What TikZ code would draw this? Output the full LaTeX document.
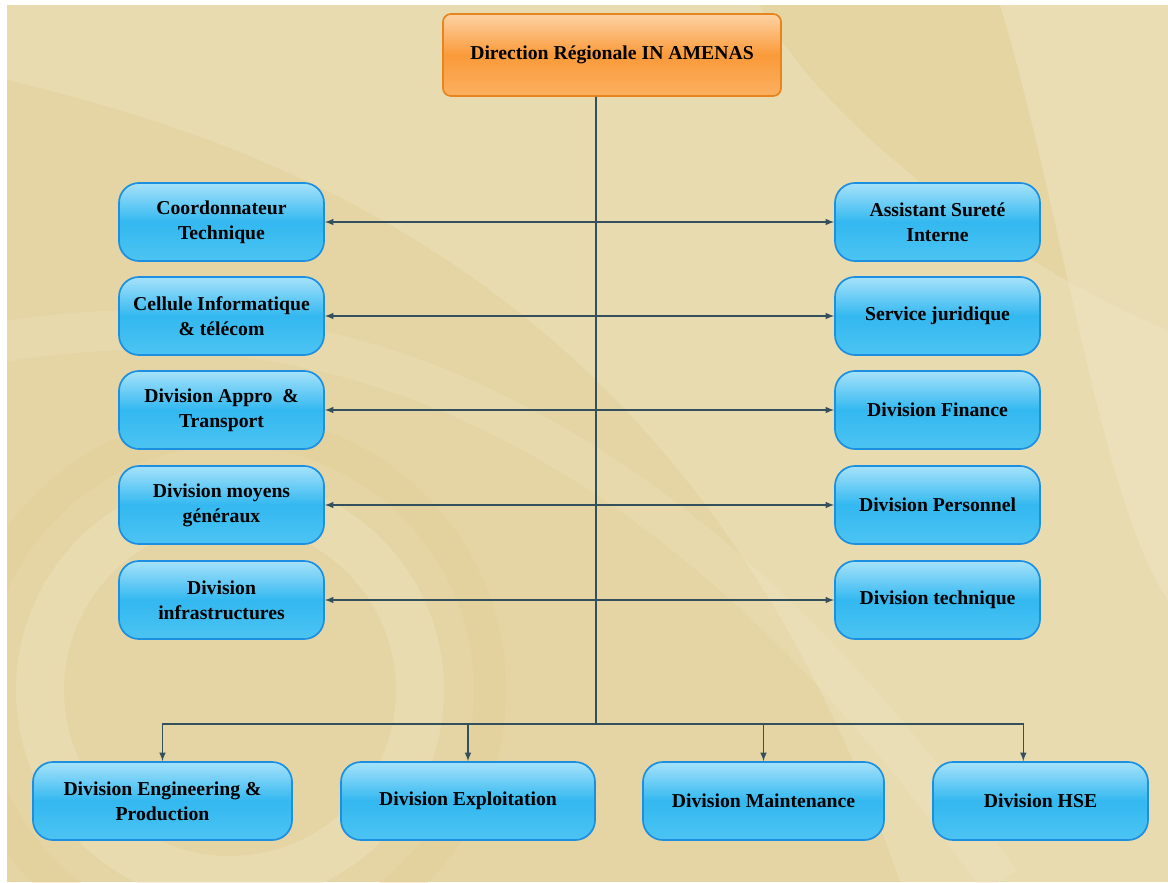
\documentclass[tikz,border=0pt]{standalone}
\usepackage{fontspec}
\setmainfont{Liberation Serif}
\definecolor{paper}{HTML}{E9DBB0}
\definecolor{paperdark}{HTML}{E0CC8E}
\definecolor{paperlight}{HTML}{EFE5C4}
\definecolor{boxtop}{HTML}{A6E2FA}
\definecolor{boxmid}{HTML}{33B8F0}
\definecolor{boxbot}{HTML}{4CC4F2}
\definecolor{boxedge}{HTML}{1C8FE0}
\definecolor{headtop}{HTML}{FDD3A4}
\definecolor{headmid}{HTML}{FA9A3A}
\definecolor{headbot}{HTML}{FBB060}
\definecolor{headedge}{HTML}{E8841E}
\definecolor{wire}{HTML}{34505C}
\begin{document}
\begin{tikzpicture}[x=0.025cm, y=-0.025cm,
    unitbox/.style={draw=boxedge, line width=1.2pt, rounded corners=0.5cm,
      top color=boxtop, bottom color=boxbot, middle color=boxmid,
      minimum width=5.125cm, minimum height=1.95cm, inner sep=2pt,
      align=center, font=\fontsize{14}{18}\selectfont\bfseries},
    headbox/.style={draw=headedge, line width=1.2pt, rounded corners=0.2cm,
      top color=headtop, bottom color=headbot, middle color=headmid,
      minimum width=8.45cm, minimum height=2.05cm,
      font=\fontsize{14}{18}\selectfont\bfseries},
    link/.style={wire, line width=1.1pt},
    >=latex]

  % page and background swirls
  \useasboundingbox (0,0) rectangle (1168,882);
  \fill[white] (0,0) rectangle (1168,882);
  \fill[paper] (7,5) rectangle (1168,882);
  \begin{scope}
    \clip (7,5) rectangle (1168,882);
    \fill[paperdark, opacity=0.35] (7,80) .. controls (300,150) and (700,300) .. (900,882)
      -- (7,882) -- cycle;
    \fill[paperdark, opacity=0.4] (760,5) .. controls (820,120) and (1000,260) .. (1168,330)
      -- (1168,5) -- cycle;
    \fill[paperlight, opacity=0.5] (1000,5) .. controls (1060,200) and (1100,500) .. (1168,600)
      -- (1168,5) -- cycle;
    \draw[paperlight, opacity=0.4, line width=1.2cm] (230,690) circle [radius=190];
    \draw[paperdark, opacity=0.3, line width=0.8cm] (230,690) circle [radius=260];
    \draw[paperlight, opacity=0.3, line width=1cm] (-200,400) .. controls (300,200) and (700,450) .. (1000,882);
  \end{scope}

  % head of the region
  \node[headbox] (dr) at (612,55) {Direction Régionale IN AMENAS};

  % staff units, left column
  \node[unitbox] (ct) at (221.5,222) {Coordonnateur\\Technique};
  \node[unitbox] (cit) at (221.5,316) {Cellule Informatique\\\& télécom};
  \node[unitbox] (dat) at (221.5,410) {Division Appro~~\&\\Transport};
  \node[unitbox] (dmg) at (221.5,505) {Division moyens\\généraux};
  \node[unitbox] (dinf) at (221.5,600) {Division\\infrastructures};

  % staff units, right column
  \node[unitbox] (asi) at (937.5,222) {Assistant Sureté\\Interne};
  \node[unitbox] (sj) at (937.5,316) {Service juridique};
  \node[unitbox] (dfin) at (937.5,410) {Division Finance};
  \node[unitbox] (dper) at (937.5,505) {Division Personnel};
  \node[unitbox] (dtech) at (937.5,600) {Division technique};

  % operational divisions
  \node[unitbox, minimum width=6.475cm] (dep) at (162.5,801) {Division Engineering \&\\Production};
  \node[unitbox, minimum width=6.35cm] (dex) at (468,801) {Division Exploitation};
  \node[unitbox, minimum width=6.025cm] (dmt) at (763.5,801) {Division Maintenance};
  \node[unitbox, minimum width=5.375cm] (dhse) at (1040.5,801) {Division HSE};

  % trunk and bus
  \coordinate (bus) at (596,724);
  \draw[link] ([xshift=-0.4cm]dr.south) -- (bus);
  \draw[link, ->] (bus) -| (dep.north);
  \draw[link, ->] (bus) -| (dex.north);
  \draw[link, ->] (bus) -| (dmt.north);
  \draw[link, ->] (bus) -| ([xshift=-0.43cm]dhse.north);

  % side links
  \draw[link, <->] (ct) -- (asi);
  \draw[link, <->] (cit) -- (sj);
  \draw[link, <->] (dat) -- (dfin);
  \draw[link, <->] (dmg) -- (dper);
  \draw[link, <->] (dinf) -- (dtech);
\end{tikzpicture}
\end{document}
